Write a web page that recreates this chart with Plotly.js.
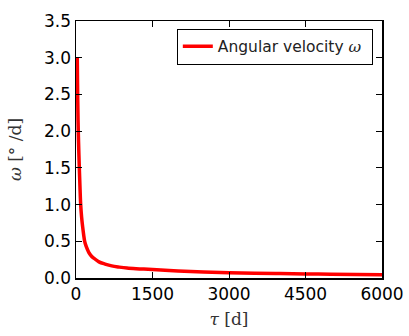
<!DOCTYPE html>
<html>
<head>
<meta charset="utf-8">
<script src="https://cdn.plot.ly/plotly-3.0.1.min.js"></script>
<style>html,body{margin:0;padding:0;background:#fff;}#chart{width:409px;height:336px;}</style>
</head>
<body>
<div id="chart"></div>
<script>
const tau = [25, 30, 40, 50, 65, 80, 92, 110, 130, 150, 170, 200, 250, 300, 350, 450, 570, 700, 850, 1000, 1250, 1500, 2000, 2500, 3000, 3500, 4000, 4500, 5000, 5500, 6000];
const omega = [3.0, 2.65, 2.15, 1.85, 1.5, 1.2, 1.0, 0.83, 0.7, 0.59, 0.5, 0.43, 0.35, 0.3, 0.27, 0.22, 0.19, 0.165, 0.148, 0.135, 0.124, 0.115, 0.097, 0.083, 0.072, 0.065, 0.06, 0.056, 0.051, 0.047, 0.044];
const xTicks = [0, 1500, 3000, 4500, 6000];
const yTicks = [0.0, 0.5, 1.0, 1.5, 2.0, 2.5, 3.0, 3.5];
const seriesName = 'Angular velocity <span style="font-family:\'DejaVu Serif\';font-style:italic">ω</span>&nbsp;';

const axisCommon = {
  showline: true, linecolor: '#000', linewidth: 1.5, mirror: 'ticks',
  ticks: 'inside', ticklen: 6, tickwidth: 1, tickcolor: '#000',
  showgrid: false, zeroline: false,
  tickfont: {family: 'DejaVu Sans', size: 17, color: '#000'}
};

Plotly.newPlot('chart', [{
  x: tau, y: omega, type: 'scatter', mode: 'lines', name: seriesName,
  line: {color: '#ff0000', width: 3.5, shape: 'spline', smoothing: 1}
}], {
  width: 409, height: 336,
  margin: {l: 76, r: 27, t: 21, b: 58},
  paper_bgcolor: '#fff', plot_bgcolor: '#fff',
  showlegend: true,
  legend: {x: 0.97, y: 0.97, xanchor: 'right', yanchor: 'top',
    bordercolor: '#000', borderwidth: 1, bgcolor: '#fff',
    font: {family: 'DejaVu Sans', size: 15.5, color: '#222'}},
  xaxis: Object.assign({}, axisCommon, {
    range: [0, 6000], tickvals: xTicks, ticktext: xTicks.map(String),
    title: {text: '<i>τ</i> [d]', font: {family: 'DejaVu Serif', size: 17, color: '#333'}, standoff: 10}
  }),
  yaxis: Object.assign({}, axisCommon, {
    range: [0, 3.5], tickvals: yTicks, ticktext: yTicks.map(v => v.toFixed(1)),
    title: {text: '<i>ω</i> [° /d]', font: {family: 'DejaVu Serif', size: 17, color: '#333'}, standoff: 18}
  })
}, {staticPlot: true});
</script>
</body>
</html>
